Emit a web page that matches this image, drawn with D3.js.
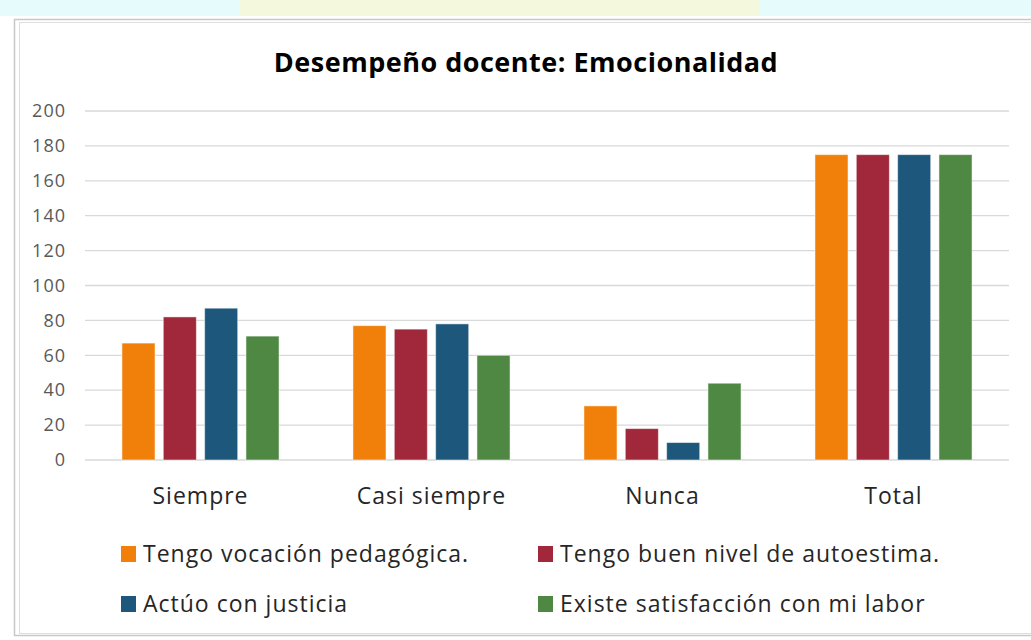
<!DOCTYPE html>
<html lang="es">
<head>
    <meta charset="UTF-8">
    <title>Desempeño docente: Emocionalidad</title>
    <script src="https://cdn.jsdelivr.net/npm/d3@7"></script>
    <style>
        body {
            margin: 0;
            background: #ffffff;
        }
        svg text {
            font-family: "Open Sans", "Noto Sans", sans-serif;
        }
        .grid line {
            stroke: #d9d9d9;
            stroke-width: 1.3;
        }
    </style>
</head>
<body>
<svg id="chart"></svg>
<script>
    // chart data
    var categories = ['Siempre', 'Casi siempre', 'Nunca', 'Total'];
    var seriesNames = [
        'Tengo vocación pedagógica.',
        'Tengo buen nivel de autoestima.',
        'Actúo con justicia',
        'Existe satisfacción con mi labor'
    ];
    var seriesColors = ['#f0800a', '#a0283a', '#1d577c', '#4f8843'];
    var vocacion = [67, 77, 31, 175];
    var autoestima = [82, 75, 18, 175];
    var justicia = [87, 78, 10, 175];
    var satisfaccion = [71, 60, 44, 175];
    var yTicks = [0, 20, 40, 60, 80, 100, 120, 140, 160, 180, 200];

    var series = [vocacion, autoestima, justicia, satisfaccion];

    var width = 1031;
    var height = 640;
    var plot = {left: 85, right: 1009, top: 111, bottom: 460};

    var svg = d3.select('#chart')
        .attr('width', width)
        .attr('height', height);

    // background strip above the frame and the chart frame
    svg.append('rect')
        .attr('width', width).attr('height', height)
        .attr('fill', '#ffffff');
    svg.append('rect')
        .attr('x', 0).attr('y', 0).attr('width', width).attr('height', 16)
        .attr('fill', '#e6fbfb');
    svg.append('rect')
        .attr('x', 240).attr('y', 0).attr('width', 520).attr('height', 16)
        .attr('fill', '#fdf6c8').attr('opacity', 0.6);
    svg.append('rect')
        .attr('x', 14.5).attr('y', 19.5).attr('width', width).attr('height', 616)
        .attr('fill', '#ffffff')
        .attr('stroke', '#c8c8c8').attr('stroke-width', 1.5);
    svg.append('rect')
        .attr('x', 19.5).attr('y', 22.5).attr('width', width).attr('height', 611)
        .attr('fill', 'none')
        .attr('stroke', '#dedede').attr('stroke-width', 1);

    // scales
    var y = d3.scaleLinear()
        .domain([0, 200])
        .range([plot.bottom, plot.top]);

    var x0 = d3.scaleBand()
        .domain(categories)
        .range([plot.left, plot.right])
        .paddingInner(0.32)
        .paddingOuter(0.16);

    var x1 = d3.scaleBand()
        .domain(d3.range(series.length))
        .range([0, x0.bandwidth()])
        .paddingInner(0.2);

    // gridlines
    svg.append('g')
        .attr('class', 'grid')
        .selectAll('line')
        .data(yTicks)
        .enter()
        .append('line')
        .attr('x1', plot.left)
        .attr('x2', plot.right)
        .attr('y1', function (d) { return y(d); })
        .attr('y2', function (d) { return y(d); });

    // y axis labels
    var yAxis = d3.axisLeft(y)
        .tickValues(yTicks)
        .tickSize(0)
        .tickPadding(19);
    var yg = svg.append('g')
        .attr('transform', 'translate(' + plot.left + ',0)')
        .call(yAxis);
    yg.select('.domain').remove();
    yg.selectAll('text')
        .attr('fill', '#595959')
        .style('font-size', '18px')
        .style('letter-spacing', '1px');

    // x axis labels
    var xAxis = d3.axisBottom(x0)
        .tickSize(0)
        .tickPadding(28);
    var xg = svg.append('g')
        .attr('transform', 'translate(0,' + plot.bottom + ')')
        .call(xAxis);
    xg.select('.domain').remove();
    xg.selectAll('text')
        .attr('fill', '#262626')
        .style('font-size', '23px')
        .style('letter-spacing', '1px');

    // bars
    var groups = svg.append('g')
        .selectAll('g')
        .data(categories)
        .enter()
        .append('g')
        .attr('transform', function (d) { return 'translate(' + x0(d) + ',0)'; });

    groups.selectAll('rect')
        .data(function (c, ci) {
            return series.map(function (s, si) { return {si: si, v: s[ci]}; });
        })
        .enter()
        .append('rect')
        .attr('x', function (d) { return x1(d.si); })
        .attr('y', function (d) { return y(d.v); })
        .attr('width', x1.bandwidth())
        .attr('height', function (d) { return y(0) - y(d.v); })
        .attr('fill', function (d) { return seriesColors[d.si]; })
        .attr('stroke', '#ffffff')
        .attr('stroke-opacity', 0.5)
        .attr('stroke-width', 1);

    // title
    svg.append('text')
        .attr('x', 526)
        .attr('y', 72)
        .attr('text-anchor', 'middle')
        .attr('fill', '#000000')
        .style('font-size', '27px')
        .style('font-weight', 'bold')
        .style('letter-spacing', '0.5px')
        .text('Desempeño docente: Emocionalidad');

    // legend
    var legendPos = [
        {x: 121, y: 554},
        {x: 538, y: 554},
        {x: 121, y: 604},
        {x: 538, y: 604}
    ];
    var legend = svg.append('g')
        .selectAll('g')
        .data(seriesNames)
        .enter()
        .append('g')
        .attr('transform', function (d, i) {
            return 'translate(' + legendPos[i].x + ',' + legendPos[i].y + ')';
        });
    legend.append('rect')
        .attr('x', 0).attr('y', -8)
        .attr('width', 15).attr('height', 16)
        .attr('fill', function (d, i) { return seriesColors[i]; });
    legend.append('text')
        .attr('x', 22)
        .attr('y', 0)
        .attr('dy', '0.35em')
        .attr('fill', '#262626')
        .style('font-size', '23px')
        .style('letter-spacing', '1px')
        .text(function (d) { return d; });
</script>
</body>
</html>
